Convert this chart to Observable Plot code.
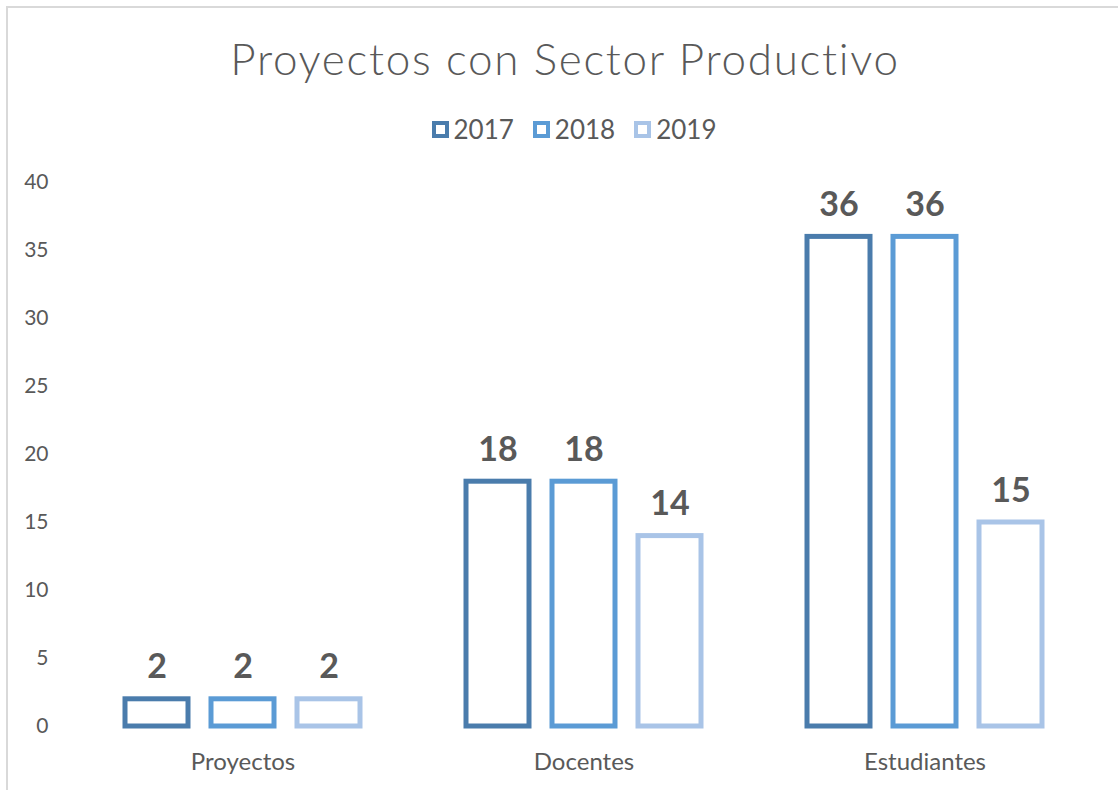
<!DOCTYPE html>
<html>
<head>
<meta charset="utf-8">
<script src="https://cdn.jsdelivr.net/npm/d3@7"></script>
<script src="https://cdn.jsdelivr.net/npm/@observablehq/plot@0.6"></script>
<style>
  html, body { margin: 0; padding: 0; background: #ffffff; }
  #frame { position: relative; width: 1118px; height: 790px; overflow: hidden; font-family: Lato, "Open Sans", sans-serif; }
  #border { position: absolute; left: 6px; top: 6px; width: 2000px; height: 2000px; border-left: 2px solid #d9d9d9; border-top: 2px solid #d9d9d9; pointer-events: none; }
  #title { margin: 0; padding-top: 36px; padding-left: 12px; height: 44px; line-height: 44px; font-size: 44px; font-weight: 300; color: #595959; text-align: center; letter-spacing: 1.7px; }
  #legend { margin-top: 34px; height: 30px; line-height: 30px; font-size: 26px; color: #595959; display: flex; justify-content: center; gap: 19px; padding-left: 30px; }
  .item { display: flex; align-items: center; gap: 5px; }
  .sw { width: 9px; height: 9px; border: 4px solid; background: #fff; }
  #chart { position: relative; }
</style>
</head>
<body>
<div id="frame">
  <div id="border"></div>
  <div id="title">Proyectos con Sector Productivo</div>
  <div id="legend"></div>
  <div id="chart"></div>
</div>
<script>
const categories = ["Proyectos", "Docentes", "Estudiantes"];
const years = ["2017", "2018", "2019"];
const v2017 = [2, 18, 36];
const v2018 = [2, 18, 36];
const v2019 = [2, 14, 15];
const yTicks = [0, 5, 10, 15, 20, 25, 30, 35, 40];
const colors = ["#4A7CAC", "#5B9BD5", "#A9C4E7"];

const series = [v2017, v2018, v2019];
const data = categories.flatMap((c, i) => years.map((y, j) => ({category: c, year: y, value: series[j][i]})));

const legend = document.getElementById("legend");
years.forEach((y, j) => {
  const it = document.createElement("div");
  it.className = "item";
  const sw = document.createElement("div");
  sw.className = "sw";
  sw.style.borderColor = colors[j];
  const t = document.createElement("span");
  t.textContent = y;
  it.appendChild(sw); it.appendChild(t);
  legend.appendChild(it);
});

const chart = Plot.plot({
  width: 1118,
  height: 646,
  marginTop: 38,
  marginBottom: 64,
  marginLeft: 71,
  marginRight: 22,
  style: {fontFamily: "Lato, 'Open Sans', sans-serif", fontSize: "21px", color: "#595959", background: "transparent"},
  fx: {domain: categories, padding: 0, label: null},
  x: {domain: years, paddingInner: 0.262, paddingOuter: 0.6, axis: null},
  y: {domain: [0, 40], axis: null},
  color: {domain: years, range: colors},
  marks: [
    Plot.axisY({ticks: yTicks, tickSize: 0, tickPadding: 24, label: null}),
    Plot.axisFx({anchor: "bottom", tickSize: 0, tickPadding: 26, label: null, fontSize: 24}),
    Plot.barY(data, {fx: "category", x: "year", y: "value", stroke: "year", fill: "#ffffff", strokeWidth: 5}),
    Plot.text(data, {fx: "category", x: "year", y: "value", text: d => String(d.value), lineAnchor: "bottom", dy: -21, fontSize: 34, fontWeight: "bold", fill: "#595959"})
  ]
});
document.getElementById("chart").appendChild(chart);
</script>
</body>
</html>
